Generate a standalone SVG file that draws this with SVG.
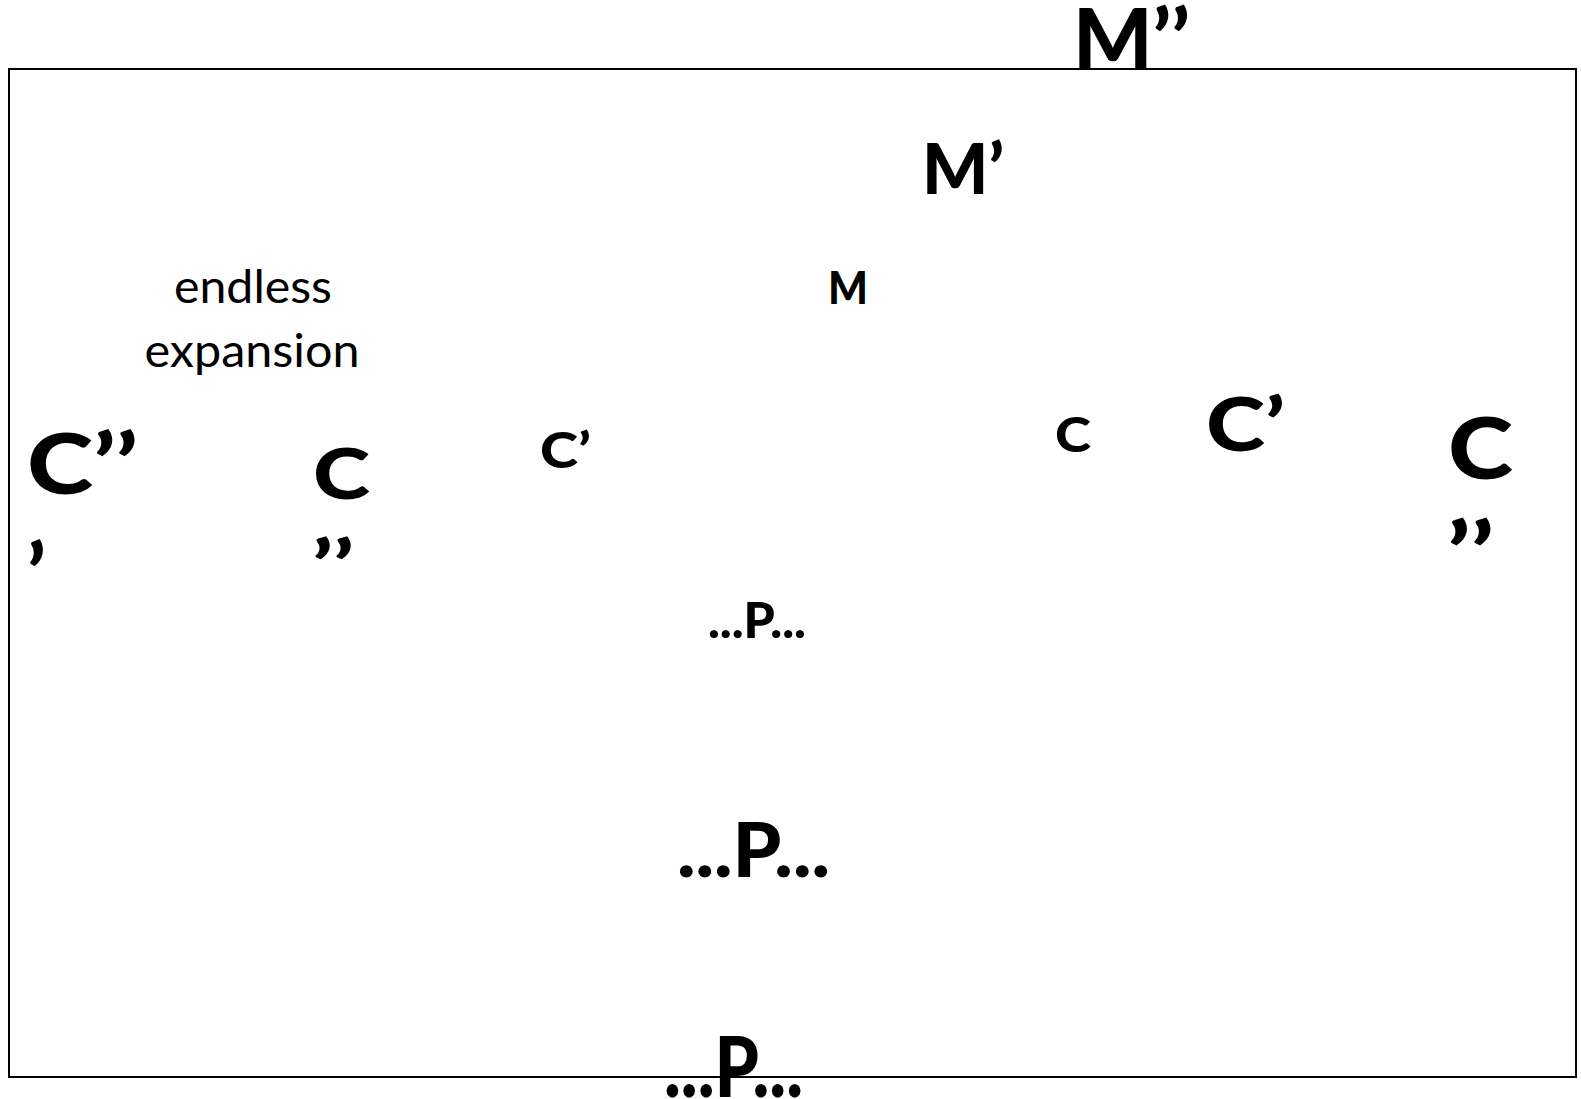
<svg xmlns="http://www.w3.org/2000/svg" width="1581" height="1099" viewBox="0 0 1581 1099">
<style>
.b{font-family:Lato,"Open Sans","Liberation Sans",sans-serif;font-weight:900;fill:#000}
.r{font-family:Lato,"Open Sans","Liberation Sans",sans-serif;font-weight:400;fill:#000}
.m{text-anchor:middle}
</style>
<rect x="9" y="69" width="1567" height="1008" fill="none" stroke="#000" stroke-width="2"/>
<g id="m2"><text class="b" x="1073" y="68" font-size="81" textLength="117" lengthAdjust="spacingAndGlyphs">M’’</text></g>
<g id="m1"><text class="b" x="922" y="194" font-size="70" textLength="82" lengthAdjust="spacingAndGlyphs">M’</text></g>
<g id="m0"><text class="b" x="828" y="304" font-size="45" textLength="40" lengthAdjust="spacingAndGlyphs">M</text></g>
<g id="endless"><text class="r m" x="253" y="303" font-size="46" textLength="158" lengthAdjust="spacingAndGlyphs">endless</text><text class="r m" x="252" y="367" font-size="46" textLength="215" lengthAdjust="spacingAndGlyphs">expansion</text></g>
<g id="c3left"><text class="b" x="27" y="494" font-size="84" textLength="111" lengthAdjust="spacingAndGlyphs">C’’</text><text class="b" x="27" y="604" font-size="84">’</text></g>
<g id="c2mid"><text class="b" x="313" y="499" font-size="70" textLength="57" lengthAdjust="spacingAndGlyphs">C</text><text class="b" x="312" y="591" font-size="70" textLength="42" lengthAdjust="spacingAndGlyphs">’’</text></g>
<g id="c1small"><text class="b" x="540" y="468" font-size="49" textLength="51" lengthAdjust="spacingAndGlyphs">C’</text></g>
<g id="c0"><text class="b" x="1055" y="452" font-size="47" textLength="36" lengthAdjust="spacingAndGlyphs">C</text></g>
<g id="c1right"><text class="b" x="1206" y="451" font-size="74" textLength="79" lengthAdjust="spacingAndGlyphs">C’</text></g>
<g id="c2right"><text class="b" x="1448" y="479" font-size="85" textLength="65" lengthAdjust="spacingAndGlyphs">C</text><text class="b" x="1447" y="584" font-size="85" textLength="47" lengthAdjust="spacingAndGlyphs">’’</text></g>
<g id="p0"><text class="b" x="708" y="638" font-size="49" textLength="98" lengthAdjust="spacingAndGlyphs">...P...</text></g>
<g id="p1"><text class="b" x="677" y="877" font-size="77" textLength="153" lengthAdjust="spacingAndGlyphs">...P...</text></g>
<g id="p2"><text class="b" x="664" y="1097" font-size="84" textLength="139" lengthAdjust="spacingAndGlyphs">...P...</text></g>
<g id="connectors"></g>
</svg>
